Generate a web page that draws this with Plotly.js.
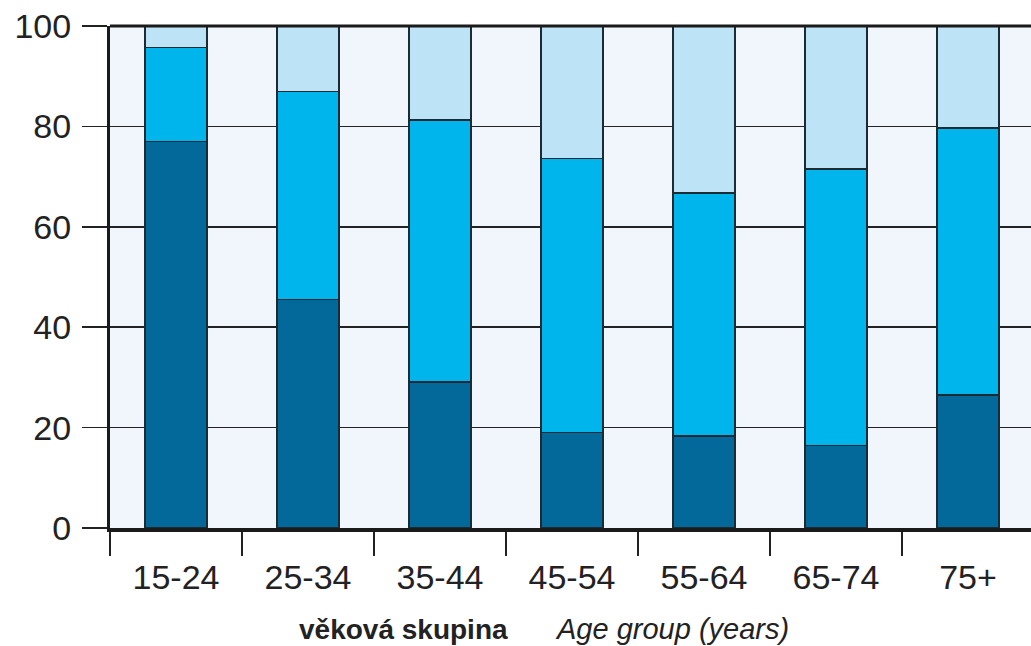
<!DOCTYPE html>
<html>
<head>
<meta charset="utf-8">
<script src="https://cdn.plot.ly/plotly-3.0.1.min.js"></script>
<style>html,body{margin:0;padding:0;background:#fff;}#chart{width:1031px;height:646px;}</style>
</head>
<body>
<div id="chart"></div>
<script>
const categories = ["15-24", "25-34", "35-44", "45-54", "55-64", "65-74", "75+"];
const darkValues = [77, 45.5, 29.1, 19.0, 18.3, 16.4, 26.5];
const midValues = [18.7, 41.5, 52.2, 54.6, 48.4, 55.1, 53.2];
const lightValues = [4.3, 13.0, 18.7, 26.4, 33.3, 28.5, 20.3];
const yTicks = [0, 20, 40, 60, 80, 100];
const titleCz = "věková skupina";
const titleEn = "Age group (years)";

const outline = {color: "#1c2a33", width: 1.5};
const mk = (vals, color) => ({
  type: "bar", x: categories, y: vals,
  marker: {color: color, line: outline},
  hoverinfo: "skip", showlegend: false
});
const data = [
  mk(darkValues, "#02699a"),
  mk(midValues, "#00b4ec"),
  mk(lightValues, "#bde3f6")
];
const txt = "#222222";
const layout = {
  width: 1031, height: 646,
  margin: {l: 110, r: 0, t: 26, b: 118},
  paper_bgcolor: "#ffffff",
  plot_bgcolor: "#f1f6fc",
  barmode: "stack",
  bargap: 0.53,
  font: {family: "Liberation Sans, Arial, sans-serif", color: txt},
  xaxis: {
    type: "category",
    range: [-0.5, 6.477],
    showgrid: false, zeroline: false,
    showline: true, linecolor: "#1a1a1a", linewidth: 4,
    ticks: "outside", tickson: "boundaries", ticklen: 24, tickwidth: 1.5, tickcolor: txt,
    tickfont: {size: 34, color: txt},
    ticklabelstandoff: 16,
    fixedrange: true
  },
  yaxis: {
    range: [0, 100],
    tickvals: yTicks,
    ticktext: yTicks.map(String),
    showgrid: true, gridcolor: "#222222", gridwidth: 1.5,
    zeroline: false,
    showline: true, linecolor: "#1a1a1a", linewidth: 3,
    ticks: "outside", ticklen: 25, tickwidth: 1.5, tickcolor: txt,
    tickfont: {size: 34, color: txt},
    ticklabelstandoff: 4,
    fixedrange: true
  },
  shapes: [
    {type: "line", xref: "paper", yref: "paper", x0: 0, x1: 1, y0: 1, y1: 1,
     line: {color: "#1a1a1a", width: 3}}
  ],
  annotations: [
    {xref: "paper", yref: "paper", x: 0.4343, y: 0, yshift: -101, xanchor: "right", yanchor: "middle",
     text: "<b>" + titleCz + "</b>", showarrow: false, font: {size: 28, color: txt}},
    {xref: "paper", yref: "paper", x: 0.481, y: 0, yshift: -101, xanchor: "left", yanchor: "middle",
     text: "<i>" + titleEn + "</i>", showarrow: false, font: {size: 29, color: txt}}
  ]
};
Plotly.newPlot("chart", data, layout, {displayModeBar: false, staticPlot: true});
</script>
</body>
</html>
